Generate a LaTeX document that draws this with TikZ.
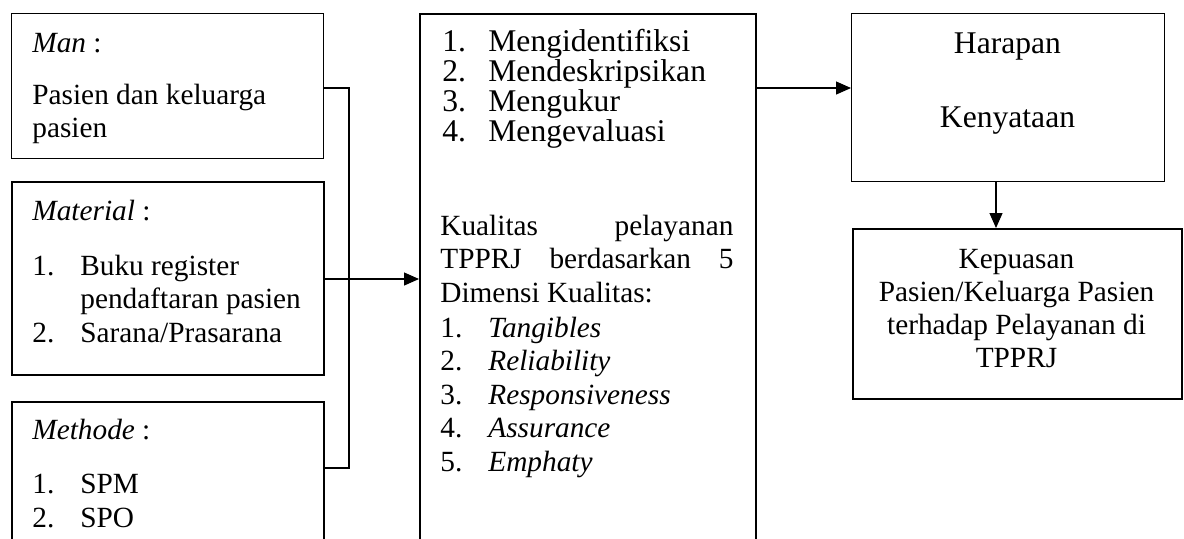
\documentclass[tikz,border=0pt]{standalone}
\usepackage{fontspec}
\setmainfont{Liberation Serif}
\usetikzlibrary{arrows.meta}
\tikzset{
  thinbox/.style={draw, line width=0.6pt, inner sep=0pt, anchor=north west},
  thickbox/.style={draw, line width=1.1pt, inner sep=0pt, anchor=north west},
  conn/.style={line width=0.6pt},
  arr/.style={line width=0.6pt, -{Triangle[length=7.5pt,width=6.5pt]}},
  txt/.style={inner sep=0pt, anchor=base west, font=\fontsize{14.65}{16.8}\selectfont},
  txtb/.style={inner sep=0pt, anchor=base west, font=\fontsize{15.8}{18}\selectfont},
  ctxt/.style={inner sep=0pt, anchor=base, font=\fontsize{14.65}{16.8}\selectfont},
  ctxtb/.style={inner sep=0pt, anchor=base, font=\fontsize{15.8}{18}\selectfont}
}
\begin{document}
\begin{tikzpicture}[x=0.5pt,y=-0.5pt]
\useasboundingbox (0,0) rectangle (1184,538);
\clip (0,0) rectangle (1184,538);
% boxes
\node[thinbox, minimum width=156pt, minimum height=72.5pt] (man) at (11,13) {};
\node[thickbox, minimum width=156pt, minimum height=96.5pt] (material) at (11,181) {};
\node[thickbox, minimum width=156pt, minimum height=74.5pt] (methode) at (11,401) {};
\node[thickbox, minimum width=168pt, minimum height=268.5pt] (center) at (419,13) {};
\node[thinbox, minimum width=156.5pt, minimum height=84pt] (hk) at (851,13) {};
\node[thickbox, minimum width=164.5pt, minimum height=85pt] (kep) at (852,228) {};
% connectors
\coordinate (bus) at (349,279);
\draw[conn] (man.east |- 0,88) -| (bus);
\draw[conn] (methode.east |- 0,468) -| (bus);
\draw[arr] (material.east |- bus) -- (center.west |- bus);
\draw[arr] (center.east |- 0,88) -- (hk.west |- 0,88);
\draw[arr] (hk.south -| 996,0) -- (kep.north -| 996,0);
% Man
\node[txt] (t1) at (32,52) {\textit{Man} :};
\node[txt] (t2) at (32,104) {Pasien dan keluarga};
\node[txt] (t3) at (32,137) {pasien};
% Material
\node[txt] (t4) at (32,220) {\textit{Material} :};
\node[txt] (t5) at (32,275) {1.};
\node[txt] (t6) at (80,275) {Buku register};
\node[txt] (t7) at (80,308) {pendaftaran pasien};
\node[txt] (t8) at (32,342) {2.};
\node[txt] (t9) at (80,342) {Sarana/Prasarana};
% Methode
\node[txt] (t10) at (32,439) {\textit{Methode} :};
\node[txt] (t11) at (32,493) {1.};
\node[txt] (t12) at (80,493) {SPM};
\node[txt] (t13) at (32,527) {2.};
\node[txt] (t14) at (80,527) {SPO};
% center box
\node[txtb] (c1n) at (442,51) {1.};
\node[txtb] (c1) at (488,51) {Mengidentifiksi};
\node[txtb] (c2n) at (442,81) {2.};
\node[txtb] (c2) at (488,81) {Mendeskripsikan};
\node[txtb] (c3n) at (442,111) {3.};
\node[txtb] (c3) at (488,111) {Mengukur};
\node[txtb] (c4n) at (442,141) {4.};
\node[txtb] (c4) at (488,141) {Mengevaluasi};
\node[txt] (k1) at (440,235) {\hbox to 146.5pt{Kualitas\hfill pelayanan}};
\node[txt] (k2) at (440,268) {\hbox to 146.5pt{TPPRJ\hfill berdasarkan\hfill 5}};
\node[txt] (k3) at (440,302) {Dimensi Kualitas:};
\node[txt] (d1n) at (440,337) {1.};
\node[txt] (d1) at (488,337) {\textit{Tangibles}};
\node[txt] (d2n) at (440,370) {2.};
\node[txt] (d2) at (488,370) {\textit{Reliability}};
\node[txt] (d3n) at (440,404) {3.};
\node[txt] (d3) at (488,404) {\textit{Responsiveness}};
\node[txt] (d4n) at (440,437) {4.};
\node[txt] (d4) at (488,437) {\textit{Assurance}};
\node[txt] (d5n) at (440,471) {5.};
\node[txt] (d5) at (488,471) {\textit{Emphaty}};
% right boxes
\node[ctxtb] (h1) at (1007.5,53) {Harapan};
\node[ctxtb] (h2) at (1007.5,127) {Kenyataan};
\node[ctxt] (p1) at (1016.5,268) {Kepuasan};
\node[ctxt] (p2) at (1016.5,301) {Pasien/Keluarga Pasien};
\node[ctxt] (p3) at (1016.5,334) {terhadap Pelayanan di};
\node[ctxt] (p4) at (1016.5,367) {TPPRJ};
\end{tikzpicture}
\end{document}
